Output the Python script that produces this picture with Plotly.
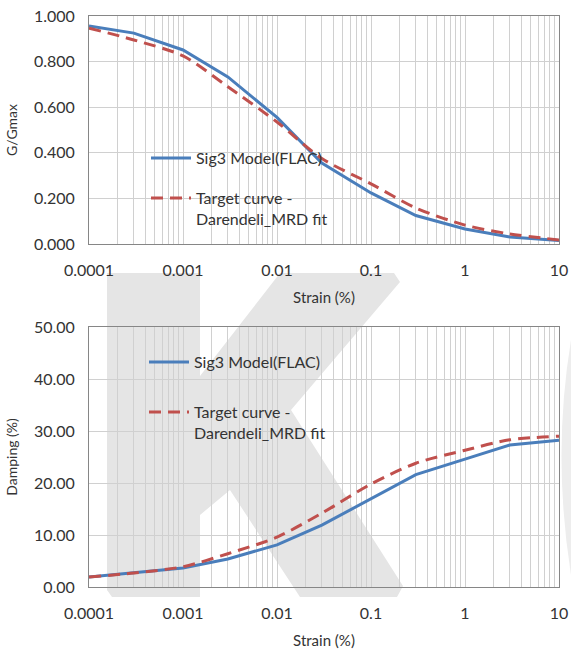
import plotly.graph_objects as go

# Strain levels (%) at which the curves are reported
strain_pts = [0.0001, 0.0003, 0.001, 0.003, 0.01, 0.03, 0.1, 0.3, 1, 3, 10]

# Modulus reduction G/Gmax
g_sig3 = [0.956, 0.925, 0.851, 0.733, 0.555, 0.355, 0.224, 0.125, 0.066, 0.031, 0.015]
g_target = [0.947, 0.895, 0.825, 0.690, 0.535, 0.375, 0.264, 0.158, 0.083, 0.044, 0.018]

# Damping ratio (%)
damp_sig3 = [1.9, 2.7, 3.65, 5.4, 8.1, 11.9, 16.9, 21.6, 24.6, 27.3, 28.2]
damp_target = [1.9, 2.7, 3.9, 6.4, 9.6, 14.2, 19.8, 23.8, 26.3, 28.3, 29.0]

x_tick_vals = [0.0001, 0.001, 0.01, 0.1, 1, 10]
x_tick_text = ["0.0001", "0.001", "0.01", "0.1", "1", "10"]

name_model = "Sig3 Model(FLAC)"
name_target = "Target curve -<br>Darendeli_MRD fit"
x_title = "Strain (%)"

W, H = 571, 650
BLUE = "#4a7ebb"
RED = "#c0504d"
TXT = "#333333"
FONT = "Lato"


def px(x):
    return x / W


def py(y):
    return 1 - y / H


fig = go.Figure()

fig.add_trace(go.Scatter(x=strain_pts, y=g_sig3, mode="lines", name=name_model,
                         line=dict(color=BLUE, width=3), xaxis="x", yaxis="y",
                         legend="legend"))
fig.add_trace(go.Scatter(x=strain_pts, y=g_target, mode="lines", name=name_target,
                         line=dict(color=RED, width=3, dash="12px,7px", shape="spline",
                                   smoothing=0.8),
                         xaxis="x", yaxis="y", legend="legend2"))
fig.add_trace(go.Scatter(x=strain_pts, y=damp_sig3, mode="lines", name=name_model,
                         line=dict(color=BLUE, width=3), xaxis="x2", yaxis="y2",
                         legend="legend3"))
fig.add_trace(go.Scatter(x=strain_pts, y=damp_target, mode="lines", name=name_target,
                         line=dict(color=RED, width=3, dash="12px,7px", shape="spline",
                                   smoothing=0.8),
                         xaxis="x2", yaxis="y2", legend="legend4"))

xdom = [px(89), px(559)]
top_dom = [py(244), py(16)]
bot_dom = [py(587), py(327)]

xaxis_common = dict(
    type="log", range=[-4, 1], domain=xdom,
    tickvals=x_tick_vals, ticktext=x_tick_text,
    showgrid=True, gridcolor="#d0d0d0", gridwidth=1,
    minor=dict(dtick="D1", showgrid=True, gridcolor="#d0d0d0", gridwidth=1, ticks=""),
    showline=True, linecolor="#868686", linewidth=1, mirror=True,
    ticks="", ticklabelstandoff=12,
    tickfont=dict(family=FONT, size=16, color=TXT),
    title=dict(text=x_title, font=dict(family=FONT, size=15, color=TXT), standoff=14),
    zeroline=False, automargin=False,
)

yaxis_common = dict(
    showgrid=True, gridcolor="#d0d0d0", gridwidth=1,
    showline=True, linecolor="#868686", linewidth=1, mirror=True,
    ticks="", ticklabelstandoff=10,
    tickfont=dict(family=FONT, size=16, color=TXT),
    zeroline=False, automargin=False,
)

legend_common = dict(
    bgcolor="rgba(0,0,0,0)", borderwidth=0, itemwidth=40, valign="top",
    font=dict(family=FONT, size=16, color=TXT), xanchor="left", yanchor="top",
    itemclick=False, itemdoubleclick=False,
)

# Light grey watermark drawn behind the axes
k_pts = [(107, 273), (200, 273), (200, 376), (280, 273), (394, 273), (400, 282),
         (291, 410), (403, 586), (397, 597), (300, 597), (230, 490), (200, 515),
         (200, 597), (112, 597), (107, 590)]
k_path = "M " + " L ".join(f"{px(x):.5f},{py(y):.5f}" for x, y in k_pts) + " Z"
side_path = (f"M {px(571):.5f},{py(340):.5f} Q {px(552):.5f},{py(455):.5f} "
             f"{px(571):.5f},{py(575):.5f} Z")

fig.update_layout(
    width=W, height=H,
    margin=dict(l=0, r=0, t=0, b=0),
    paper_bgcolor="white", plot_bgcolor="rgba(0,0,0,0)",
    showlegend=True,
    xaxis=dict(**xaxis_common, anchor="y"),
    yaxis=dict(**yaxis_common, domain=top_dom, range=[0, 1], dtick=0.2,
               tickformat=".3f",
               title=dict(text="G/Gmax", font=dict(family=FONT, size=14, color=TXT),
                          standoff=12)),
    xaxis2=dict(**xaxis_common, anchor="y2"),
    yaxis2=dict(**yaxis_common, domain=bot_dom, range=[0, 50], dtick=10,
                tickformat=".2f",
                title=dict(text="Damping (%)", font=dict(family=FONT, size=14, color=TXT),
                           standoff=12)),
    legend=dict(**legend_common, x=px(146), y=py(141)),
    legend2=dict(**legend_common, x=px(146), y=py(181)),
    legend3=dict(**legend_common, x=px(144), y=py(345)),
    legend4=dict(**legend_common, x=px(144), y=py(395)),
    shapes=[
        dict(type="path", xref="paper", yref="paper", path=k_path,
             fillcolor="#e5e5e5", line=dict(width=0), layer="below"),
        dict(type="path", xref="paper", yref="paper", path=side_path,
             fillcolor="#ededed", line=dict(width=0), layer="below"),
    ],
)

fig.write_html("out.html")
